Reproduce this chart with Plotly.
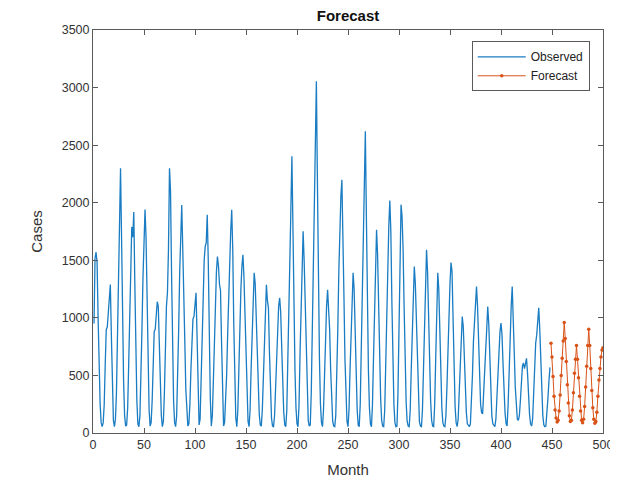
import plotly.graph_objects as go

# Observed monthly cases (months 1..448)
observed = [
    950, 1520, 1570, 1480, 1000, 560, 250, 90, 55, 90, 250, 600,
    900, 920, 1050, 1200, 1290, 850, 380, 110, 55, 120, 350, 800,
    1300, 1900, 2300, 1700, 1000, 450, 150, 60, 70, 220, 600, 1100,
    1480, 1790, 1700, 1920, 1300, 700, 280, 80, 55, 150, 450, 900,
    1350, 1700, 1940, 1700, 1100, 550, 200, 60, 90, 280, 600, 880,
    900, 1000, 1140, 1100, 800, 420, 150, 55, 100, 350, 750, 1100,
    1220, 1600, 2300, 2100, 1400, 700, 280, 90, 55, 150, 450, 900,
    1400, 1750, 1980, 1600, 1300, 800, 380, 140, 60, 80, 250, 550,
    850, 990, 1010, 1150, 1217, 850, 380, 70, 120, 400, 800, 1150,
    1500, 1620, 1650, 1896, 1500, 850, 300, 60, 150, 450, 850, 1200,
    1400, 1533, 1450, 1290, 1240, 800, 300, 60, 90, 250, 500, 850,
    1200, 1500, 1750, 1939, 1600, 950, 400, 130, 55, 200, 550, 950,
    1250, 1450, 1548, 1350, 1000, 600, 280, 100, 55, 200, 550, 900,
    1200, 1391, 1300, 1050, 700, 380, 160, 70, 60, 200, 500, 850,
    1100, 1287, 1150, 1087, 700, 350, 130, 60, 55, 150, 400, 700,
    950, 1100, 1174, 1050, 750, 420, 180, 70, 55, 200, 550, 1000,
    1500, 1950, 2403, 1800, 1100, 550, 220, 80, 55, 250, 700, 1150,
    1446, 1751, 1500, 1100, 650, 300, 110, 60, 70, 350, 900, 1600,
    2100, 2500, 3055, 2200, 1300, 650, 250, 90, 55, 200, 500, 850,
    1100, 1243, 1113, 900, 550, 250, 100, 60, 55, 150, 450, 900,
    1400, 1800, 2050, 2200, 1800, 1200, 650, 280, 100, 55, 200, 550,
    900, 1150, 1391, 1250, 900, 500, 200, 70, 55, 250, 700, 1200,
    1765, 1900, 2620, 1900, 1100, 550, 220, 80, 55, 250, 650, 1050,
    1400, 1765, 1550, 1100, 650, 300, 110, 60, 55, 200, 600, 1050,
    1500, 1800, 2020, 1750, 1150, 600, 250, 90, 55, 60, 350, 900,
    1500, 1983, 1881, 1600, 1100, 600, 270, 100, 60, 55, 200, 550,
    900, 1200, 1446, 1300, 950, 550, 250, 100, 60, 55, 200, 550,
    950, 1300, 1591, 1400, 1000, 600, 280, 110, 60, 55, 250, 650,
    1050, 1391, 1250, 900, 500, 220, 90, 60, 55, 150, 400, 750,
    1050, 1300, 1481, 1400, 1000, 550, 230, 90, 55, 120, 350, 650,
    925, 1012, 925, 650, 380, 180, 80, 60, 55, 80, 250, 500,
    800, 1000, 1142, 1272, 1100, 750, 450, 250, 175, 170, 350, 600,
    722, 900, 1098, 950, 650, 350, 150, 80, 60, 55, 120, 300,
    550, 750, 880, 954, 850, 600, 350, 170, 80, 60, 250, 600,
    950, 1100, 1272, 1050, 700, 400, 200, 120, 110, 150, 280, 450,
    580, 609, 560, 600, 649, 520, 320, 160, 80, 60, 120, 350,
    600, 780, 850, 1000, 1087, 900, 600, 320, 150, 70, 55, 60,
    150, 300, 450, 570,
]

# Forecast monthly cases (months following the observed data, up to 500)
forecast = [
    780, 660, 490, 320, 200, 130, 95, 110, 190, 330, 500, 650,
    800, 960, 820, 620, 420, 260, 150, 100, 110, 200, 350, 520,
    640, 760, 640, 480, 320, 190, 110, 90, 120, 230, 400, 580,
    760, 900, 760, 560, 370, 220, 120, 85, 100, 180, 320, 460,
    560, 660, 720, 740,
]

x_ticks = [0, 50, 100, 150, 200, 250, 300, 350, 400, 450, 500]
y_ticks = [0, 500, 1000, 1500, 2000, 2500, 3000, 3500]

obs_months = list(range(1, len(observed) + 1))
fc_start = 500 - len(forecast) + 1
fc_months = list(range(fc_start, 501))

fig = go.Figure()
fig.add_trace(go.Scatter(
    x=obs_months, y=observed, mode="lines", name="Observed",
    line=dict(color="#1a7cc2", width=1.3),
))
fig.add_trace(go.Scatter(
    x=fc_months, y=forecast, mode="lines+markers", name="Forecast",
    line=dict(color="#D95319", width=1.0),
    marker=dict(color="#D95319", size=3.5, symbol="circle"),
))

font_family = "Liberation Sans, Arial, sans-serif"
axis_common = dict(
    showline=True, linecolor="#5a5a5a", linewidth=1, mirror="ticks",
    ticks="inside", ticklen=5, tickcolor="#5a5a5a", tickwidth=1,
    showgrid=False, zeroline=False, automargin=False,
    tickfont=dict(family=font_family, size=12.5, color="#333333"),
)

fig.update_layout(
    width=610, height=474,
    margin=dict(l=85, r=15, t=22, b=49),
    paper_bgcolor="white", plot_bgcolor="white",
    font=dict(family=font_family, color="#333333"),
    title=dict(text="<b>Forecast</b>", x=0.5, xref="paper", xanchor="center",
               y=1, yref="paper", yanchor="bottom", pad=dict(b=9),
               font=dict(family=font_family, size=15, color="#111111")),
    xaxis=dict(range=[0, 500], tickvals=x_ticks,
               title=dict(text="Month", standoff=13,
                          font=dict(family=font_family, size=15, color="#333333")),
               **axis_common),
    yaxis=dict(range=[0, 3500], tickvals=y_ticks,
               title=dict(text="Cases", standoff=15,
                          font=dict(family=font_family, size=15, color="#333333")),
               **axis_common),
    legend=dict(x=0.974, y=0.972, xanchor="right", yanchor="top",
                bgcolor="white", bordercolor="#5a5a5a", borderwidth=1,
                font=dict(family=font_family, size=12, color="#222222"),
                itemwidth=48, tracegroupgap=0),
    showlegend=True,
)

fig.write_html("out.html")
